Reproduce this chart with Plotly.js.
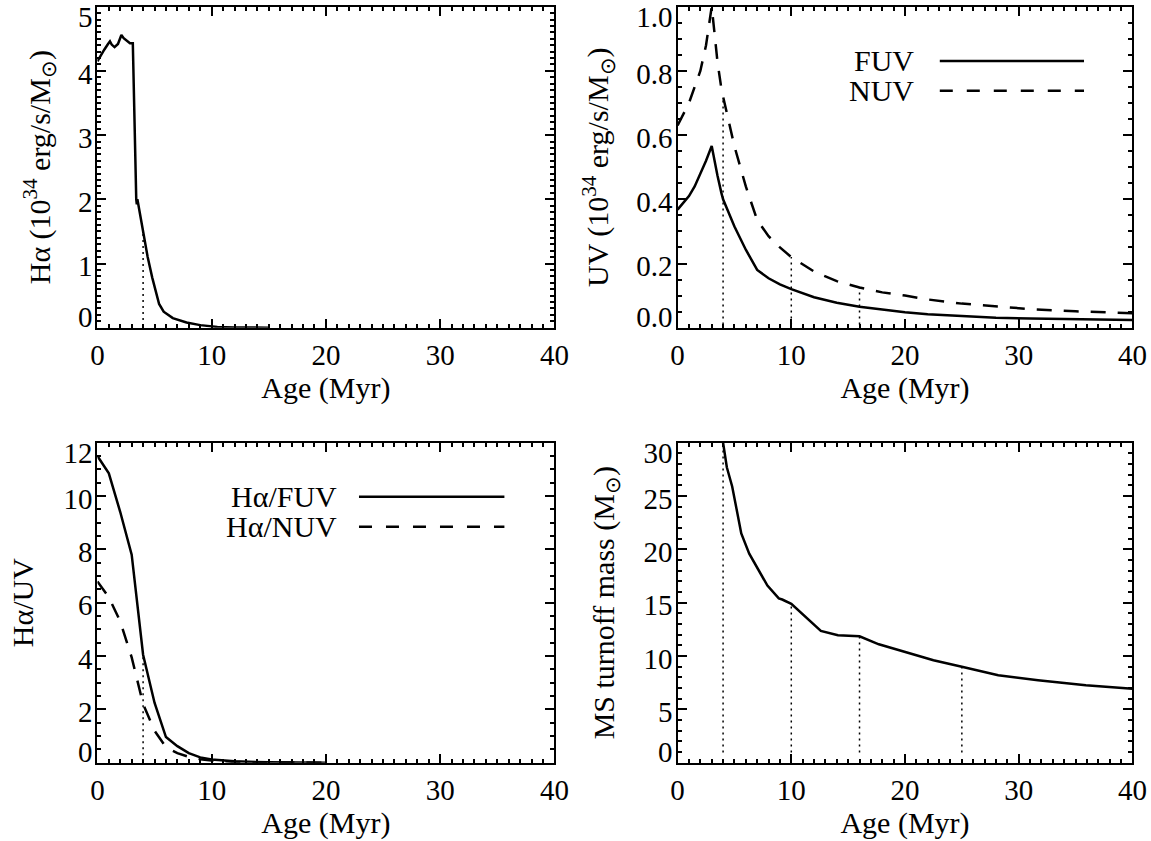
<!DOCTYPE html>
<html><head><meta charset="utf-8">
<script src="https://cdn.plot.ly/plotly-3.0.1.min.js"></script>
<style>html,body{margin:0;padding:0;background:#fff}#chart{width:1151px;height:841px}</style>
</head><body><div id="chart"></div>
<script>
// ---- data ----
const ageHa = [0, 0.3, 0.6, 0.9, 1.1, 1.25, 1.5, 1.8, 2.1, 2.3, 2.5, 2.7, 2.85, 3.0, 3.1, 3.4, 3.45, 3.5, 3.7, 4, 4.4, 4.8, 5.4, 5.8, 6.6, 7.8, 9, 10.5, 12, 15];
const haLum = [4.15, 4.25, 4.33, 4.41, 4.46, 4.41, 4.37, 4.42, 4.56, 4.51, 4.48, 4.45, 4.43, 4.43, 4.43, 2.0, 1.92, 2.0, 1.8, 1.5, 1.1, 0.78, 0.37, 0.25, 0.15, 0.08, 0.04, 0.012, 0.004, 0];

const ageUV = [0, 1, 1.5, 2, 2.5, 3, 3.3, 3.5, 3.85, 4, 5, 6, 7, 8, 9, 10, 12, 14, 16, 18, 20, 22, 25, 28, 31, 35, 40];
const fuvLum = [0.368, 0.41, 0.44, 0.48, 0.52, 0.566, 0.51, 0.475, 0.42, 0.40, 0.315, 0.243, 0.18, 0.154, 0.135, 0.12, 0.095, 0.078, 0.065, 0.056, 0.048, 0.042, 0.036, 0.031, 0.029, 0.026, 0.024];
const nuvLum = [0.63, 0.70, 0.75, 0.80, 0.88, 1.0, 0.90, 0.83, 0.745, 0.72, 0.565, 0.44, 0.335, 0.285, 0.25, 0.22, 0.175, 0.145, 0.125, 0.11, 0.10, 0.088, 0.075, 0.066, 0.058, 0.051, 0.045];

const ageRatio = [0, 1, 2, 3, 4, 5, 6, 7, 8, 9, 10, 12, 15, 20];
const haFuv = [11.5, 10.85, 9.4, 7.8, 4.05, 2.25, 0.96, 0.62, 0.36, 0.2, 0.12, 0.05, 0.015, 0];
const haNuv = [6.8, 6.2, 5.3, 3.95, 2.2, 1.2, 0.58, 0.36, 0.22, 0.13, 0.08, 0.03, 0.01, 0];

const ageMS = [4, 4.33, 4.8, 5.15, 5.6, 6.3, 7.1, 7.9, 8.9, 9.2, 10, 11.2, 12.6, 14.1, 16, 17.7, 20, 22.5, 25, 28.2, 31.7, 35.9, 40];
const msMass = [30, 27.7, 25.9, 24.1, 21.5, 19.6, 18.05, 16.6, 15.4, 15.3, 14.9, 13.7, 12.35, 11.95, 11.85, 11.1, 10.4, 9.6, 9.0, 8.2, 7.73, 7.26, 6.94];

const markAges = [4, 10, 16, 25];
const dropFloor = {ha: 0.12, uv: 0.01, ratio: 0.28, ms: 0.95};

const xTicks = [0, 10, 20, 30, 40];
const yTicksHa = [0, 1, 2, 3, 4, 5];
const yTicksUV = [0, 0.2, 0.4, 0.6, 0.8, 1.0];
const yTicksRatio = [0, 2, 4, 6, 8, 10, 12];
const yTicksMS = [0, 5, 10, 15, 20, 25, 30];
const yTextHa = ['0', '1', '2', '3', '4', '5'];
const yTextUV = ['0.0', '0.2', '0.4', '0.6', '0.8', '1.0'];
const yTextRatio = ['0', '2', '4', '6', '8', '10', '12'];
const yTextMS = ['0', '5', '10', '15', '20', '25', '30'];

// ---- helpers ----
const FONT = 'Liberation Serif, Times New Roman, serif';
function lookup(ages, vals, a){ return vals[ages.indexOf(a)]; }
function drops(ages, vals, list, floor, xa, ya){
  return list.map(a => ({x:[a,a], y:[floor, lookup(ages, vals, a)], xaxis:xa, yaxis:ya,
    mode:'lines', line:{color:'#000', width:1.5, dash:'2px,4px'}, hoverinfo:'skip', showlegend:false}));
}
const solid = {color:'#000', width:2.5};
const dashed = {color:'#000', width:2.5, dash:'15px,12px'};

// IDL-style label placement: end labels pulled inside the frame (pixel offsets, + = down)
const LABEL_SHIFT = {top: 10, mid: 2.5, bottom: -10.5};
function labelPos(ticks, range, heightPx){
  const upp = (range[1]-range[0])/heightPx;
  return ticks.map((t, i) => {
    const s = i === 0 ? LABEL_SHIFT.bottom : (i === ticks.length-1 ? LABEL_SHIFT.top : LABEL_SHIFT.mid);
    return t - s*upp;
  });
}

const traces = [
  {x:ageHa, y:haLum, xaxis:'x', yaxis:'y', mode:'lines', line:solid, showlegend:false},
  ...drops(ageHa, haLum, [4], dropFloor.ha, 'x', 'y'),
  {x:ageUV, y:fuvLum, xaxis:'x2', yaxis:'y2', mode:'lines', line:solid, showlegend:false},
  {x:ageUV, y:nuvLum, xaxis:'x2', yaxis:'y2', mode:'lines', line:dashed, showlegend:false},
  ...drops(ageUV, nuvLum, markAges.slice(0,3), dropFloor.uv, 'x2', 'y2'),
  {x:ageRatio, y:haFuv, xaxis:'x3', yaxis:'y3', mode:'lines', line:solid, showlegend:false},
  {x:ageRatio, y:haNuv, xaxis:'x3', yaxis:'y3', mode:'lines', line:dashed, showlegend:false},
  ...drops(ageRatio, haFuv, [4], dropFloor.ratio, 'x3', 'y3'),
  {x:ageMS, y:msMass, xaxis:'x4', yaxis:'y4', mode:'lines', line:solid, showlegend:false},
  ...drops(ageMS, msMass, markAges, dropFloor.ms, 'x4', 'y4'),
  // empty traces so the label-only axes get drawn
  {x:[], y:[], xaxis:'x', yaxis:'y5', mode:'lines', showlegend:false},
  {x:[], y:[], xaxis:'x2', yaxis:'y6', mode:'lines', showlegend:false},
  {x:[], y:[], xaxis:'x3', yaxis:'y7', mode:'lines', showlegend:false},
  {x:[], y:[], xaxis:'x4', yaxis:'y8', mode:'lines', showlegend:false},
];

const tickFont = {family:FONT, size:29, color:'#000'};
const titleFont = {family:FONT, size:30, color:'#000'};

function xax(dom, anchor){
  return {domain:dom, anchor:anchor, range:[0,40], tickvals:xTicks, showline:true, linewidth:2, linecolor:'#000',
    mirror:'ticks', ticks:'inside', ticklen:9, tickwidth:2, tickcolor:'#000', showgrid:false, zeroline:false,
    minor:{dtick:1, ticks:'inside', ticklen:4, tickwidth:2, tickcolor:'#000', showgrid:false},
    tickfont:tickFont, ticklabelstandoff:0, ticklabeloverflow:'allow',
    title:{text:'Age (Myr)', font:titleFont, standoff:3}, automargin:false, fixedrange:true};
}
function yax(dom, anchor, range, minor){
  return {domain:dom, anchor:anchor, range:range, showticklabels:false, showline:true, linewidth:2, linecolor:'#000',
    mirror:'ticks', ticks:'inside', ticklen:9, tickwidth:2, tickcolor:'#000', showgrid:false, zeroline:false,
    minor:{dtick:minor, ticks:'inside', ticklen:4, tickwidth:2, tickcolor:'#000', showgrid:false},
    automargin:false, fixedrange:true};
}
function ylab(over, anchor, range, ticks, texts, heightPx, title, standoff){
  return {overlaying:over, anchor:anchor, side:'left', range:range,
    tickvals:labelPos(ticks, range, heightPx), ticktext:texts, ticks:'', showline:false, showgrid:false, zeroline:false,
    tickfont:tickFont, ticklabelstandoff:4, ticklabeloverflow:'allow',
    title:{text:title, font:titleFont, standoff:standoff}, automargin:false, fixedrange:true};
}

const dxL = [97.4/1151, 554.4/1151], dxR = [677.6/1151, 1132.4/1151];
const dyT = [1-327.7/841, 1-6.7/841], dyB = [1-762.7/841, 1-442.7/841];
const hT = 321, hB = 320;
const rHa = [0,5], rUV = [0,1], rRatio = [0,12], rMS = [0,30];

const layout = {
  width:1151, height:841, margin:{l:0, r:0, t:0, b:0}, paper_bgcolor:'#fff', plot_bgcolor:'#fff',
  showlegend:false,
  xaxis: xax(dxL, 'y'),  yaxis: yax(dyT, 'x', rHa, 0.1),
  xaxis2: xax(dxR, 'y2'), yaxis2: yax(dyT, 'x2', rUV, 0.05),
  xaxis3: xax(dxL, 'y3'), yaxis3: yax(dyB, 'x3', rRatio, 0.5),
  xaxis4: xax(dxR, 'y4'), yaxis4: yax(dyB, 'x4', rMS, 1),
  yaxis5: ylab('y', 'x', rHa, yTicksHa, yTextHa, hT, 'Hα (10<sup>34</sup> erg/s/M<sub>⊙</sub>)', 18),
  yaxis6: ylab('y2', 'x2', rUV, yTicksUV, yTextUV, hT, 'UV (10<sup>34</sup> erg/s/M<sub>⊙</sub>)', 18),
  yaxis7: ylab('y3', 'x3', rRatio, yTicksRatio, yTextRatio, hB, 'Hα/UV', 20),
  yaxis8: ylab('y4', 'x4', rMS, yTicksMS, yTextMS, hB, 'MS turnoff mass (M<sub>⊙</sub>)', 20),
  shapes: [
    {type:'line', xref:'x2 domain', yref:'y2 domain', x0:0.5765, x1:0.8936, y0:0.831, y1:0.831, line:{color:'#000', width:2.5}},
    {type:'line', xref:'x2 domain', yref:'y2 domain', x0:0.5765, x1:0.8936, y0:0.738, y1:0.738, line:{color:'#000', width:2.5, dash:'13px,14px'}},
    {type:'line', xref:'x3 domain', yref:'y3 domain', x0:0.5724, x1:0.8906, y0:0.831, y1:0.831, line:{color:'#000', width:2.5}},
    {type:'line', xref:'x3 domain', yref:'y3 domain', x0:0.5724, x1:0.8906, y0:0.7375, y1:0.7375, line:{color:'#000', width:2.5, dash:'13px,14px'}},
  ],
  annotations: [
    {text:'FUV', xref:'x2 domain', yref:'y2 domain', x:0.5235, y:0.831, xanchor:'right', yanchor:'middle', showarrow:false, font:titleFont},
    {text:'NUV', xref:'x2 domain', yref:'y2 domain', x:0.5235, y:0.738, xanchor:'right', yanchor:'middle', showarrow:false, font:titleFont},
    {text:'Hα/FUV', xref:'x3 domain', yref:'y3 domain', x:0.5287, y:0.831, xanchor:'right', yanchor:'middle', showarrow:false, font:titleFont},
    {text:'Hα/NUV', xref:'x3 domain', yref:'y3 domain', x:0.5287, y:0.7375, xanchor:'right', yanchor:'middle', showarrow:false, font:titleFont},
  ]
};

Plotly.newPlot('chart', traces, layout, {staticPlot:true, displayModeBar:false});
</script>
</body></html>
